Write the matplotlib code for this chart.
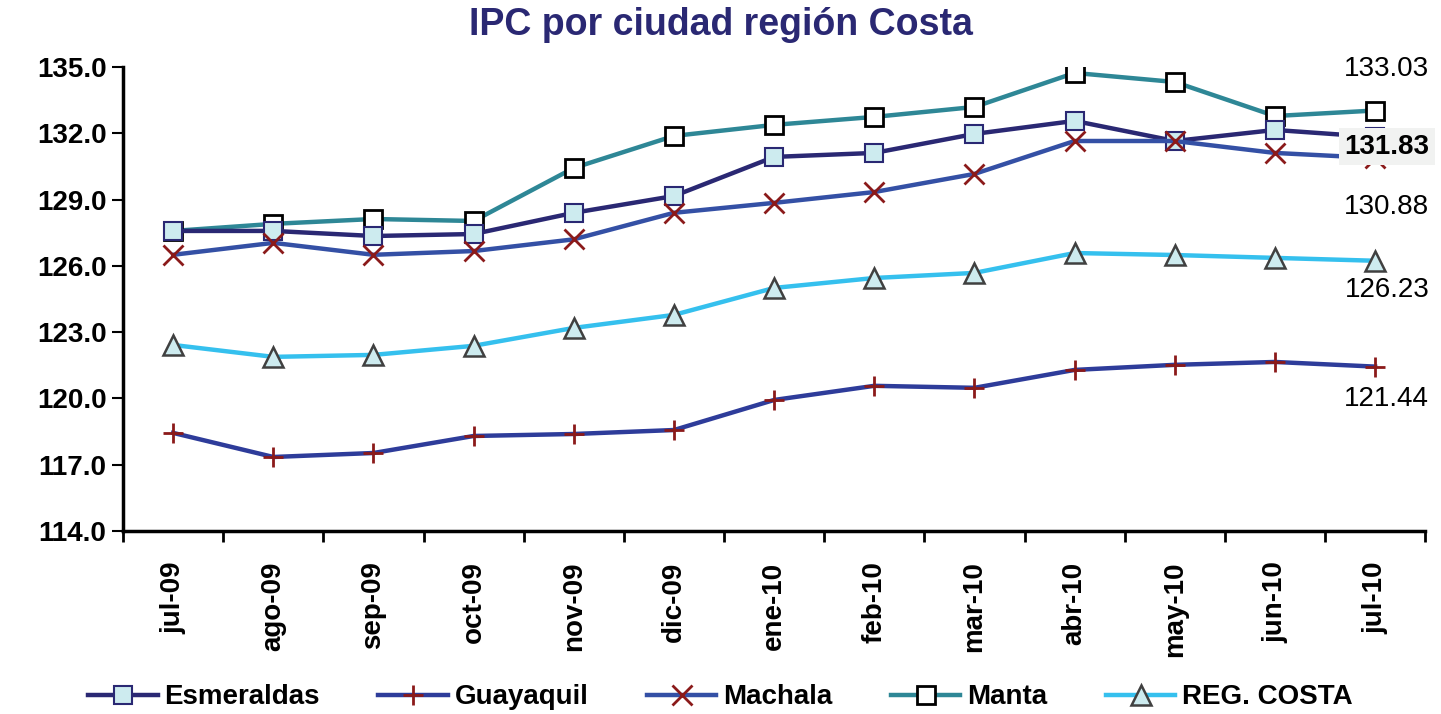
import matplotlib.pyplot as plt
import numpy as np

plt.rcParams['font.family'] = ['Liberation Sans', 'DejaVu Sans']

meses = ['jul-09', 'ago-09', 'sep-09', 'oct-09', 'nov-09', 'dic-09', 'ene-10',
         'feb-10', 'mar-10', 'abr-10', 'may-10', 'jun-10', 'jul-10']

esmeraldas = [127.58, 127.58, 127.35, 127.44, 128.40, 129.16, 130.93,
              131.11, 131.97, 132.56, 131.65, 132.15, 131.83]
guayaquil = [118.44, 117.35, 117.53, 118.30, 118.39, 118.57, 119.93,
             120.57, 120.48, 121.29, 121.52, 121.65, 121.44]
machala = [126.50, 127.04, 126.50, 126.67, 127.20, 128.40, 128.85,
           129.34, 130.16, 131.65, 131.65, 131.11, 130.88]
manta = [127.58, 127.90, 128.12, 128.03, 130.43, 131.88, 132.38,
         132.74, 133.19, 134.73, 134.32, 132.78, 133.03]
reg_costa = [122.42, 121.88, 121.97, 122.38, 123.19, 123.78, 125.00,
             125.45, 125.68, 126.58, 126.49, 126.36, 126.23]

x = np.arange(len(meses))

fig = plt.figure(figsize=(14.41, 7.14), dpi=100)
ax = fig.add_axes([0.0854, 0.2563, 0.9036, 0.6499])

lw = 3.2
ax.plot(x, manta, color='#2E8796', lw=lw, marker='s', ms=13,
        mfc='white', mec='black', mew=2, label='Manta', zorder=3)
ax.plot(x, esmeraldas, color='#2A2873', lw=lw, marker='s', ms=13,
        mfc='#CDEBEF', mec='#2A2873', mew=1.5, label='Esmeraldas', zorder=4)
ax.plot(x, machala, color='#3450A5', lw=lw, marker='x', ms=14,
        mec='#8B1A1A', mew=2, label='Machala', zorder=4)
ax.plot(x, reg_costa, color='#35C0EE', lw=lw, marker='^', ms=14,
        mfc='#CDEBEF', mec='#404040', mew=1.8, label='REG. COSTA', zorder=3)
ax.plot(x, guayaquil, color='#2E3C9A', lw=lw, marker='+', ms=15,
        mec='#8B1A1A', mew=2, label='Guayaquil', zorder=3)

# etiquetas del último mes
ult = len(meses) - 1
fs_lab = 20
ax.annotate('%.2f' % manta[-1], (ult, manta[-1]), xytext=(39, 30),
            textcoords='offset points', ha='right', va='center', fontsize=fs_lab,
            zorder=10)
ax.annotate('%.2f' % esmeraldas[-1], (ult, esmeraldas[-1]), xytext=(39, -7),
            textcoords='offset points', ha='right', va='center', fontsize=fs_lab,
            fontweight='bold', zorder=10,
            bbox=dict(boxstyle='square,pad=0.2', fc='#F1F2F1', ec='none'))
ax.annotate('%.2f' % machala[-1], (ult, machala[-1]), xytext=(39, -35),
            textcoords='offset points', ha='right', va='center', fontsize=fs_lab,
            zorder=10)
ax.annotate('%.2f' % reg_costa[-1], (ult, reg_costa[-1]), xytext=(39, -21),
            textcoords='offset points', ha='right', va='center', fontsize=fs_lab,
            zorder=10)
ax.annotate('%.2f' % guayaquil[-1], (ult, guayaquil[-1]), xytext=(39, -23),
            textcoords='offset points', ha='right', va='center', fontsize=fs_lab,
            zorder=10)

ax.set_xlim(-0.5, len(meses) - 0.5)
ax.set_ylim(114, 135)
ax.set_yticks(np.arange(114, 135.1, 3))
ax.set_yticklabels(['%.1f' % v for v in np.arange(114, 135.1, 3)],
                   fontsize=20, fontweight='bold')
ax.set_xticks(x)
ax.set_xticklabels(meses, rotation=90, fontsize=20, fontweight='bold')
ax.set_xticks(np.arange(-0.5, len(meses), 1), minor=True)
ax.tick_params(axis='x', which='major', length=0, pad=22)
ax.tick_params(axis='x', which='minor', length=8, width=2, direction='out')
ax.tick_params(axis='y', length=8, width=1.5, direction='out', pad=4)

for s in ['top', 'right']:
    ax.spines[s].set_visible(False)
ax.spines['left'].set_linewidth(2.5)
ax.spines['bottom'].set_linewidth(2.5)

fig.suptitle('IPC por ciudad región Costa', x=0.5, y=0.99, va='top',
             fontsize=27, fontweight='bold', color='#2A2873')

h, l = ax.get_legend_handles_labels()
orden = ['Esmeraldas', 'Guayaquil', 'Machala', 'Manta', 'REG. COSTA']
hs = [h[l.index(n)] for n in orden]
fig.legend(hs, orden, loc='lower center', ncol=5, frameon=False,
           bbox_to_anchor=(0.5, -0.03), prop={'size': 20, 'weight': 'bold'},
           columnspacing=2.1, handlelength=2.5, handletextpad=0.25)

fig.savefig('out.png', dpi=100)
